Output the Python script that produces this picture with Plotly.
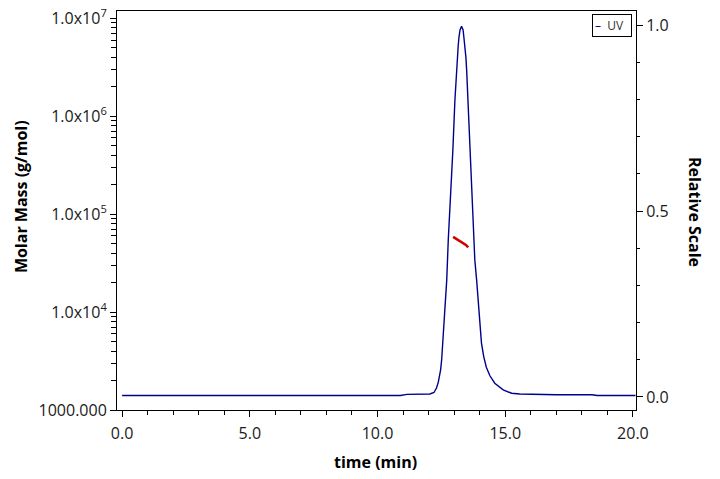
import plotly.graph_objects as go

# UV trace (relative scale)
uv_time = [0.0, 0.5, 1.2, 1.4, 1.7, 1.9, 5.0, 8.0, 10.9, 11.15, 11.8, 12.05, 12.21, 12.31, 12.38, 12.47,
           12.51, 12.62, 12.71, 12.77, 12.82, 12.86, 12.95, 13.03, 13.09, 13.12, 13.16, 13.19,
           13.23, 13.29, 13.35, 13.38, 13.42, 13.46, 13.49, 13.54, 13.62, 13.71, 13.76, 13.81,
           13.88, 13.99, 14.07, 14.16, 14.26, 14.40, 14.59, 14.92, 15.25, 15.57, 16.0, 16.35, 17.0,
           18.4, 18.6, 20.1]
uv_value = [0.004, 0.004, 0.004, 0.006, 0.006, 0.004, 0.004, 0.004, 0.004, 0.007, 0.008, 0.008, 0.012,
            0.024, 0.040, 0.073, 0.099, 0.207, 0.315, 0.422, 0.489, 0.530, 0.664, 0.798, 0.879,
            0.917, 0.946, 0.968, 0.987, 0.997, 0.987, 0.968, 0.946, 0.914, 0.879, 0.798, 0.664,
            0.530, 0.449, 0.368, 0.315, 0.207, 0.145, 0.108, 0.080, 0.057, 0.037, 0.019, 0.010, 0.008,
            0.007, 0.006, 0.006, 0.006, 0.004, 0.004]

# Molar mass trace (g/mol)
mm_time = [12.96, 13.10, 13.23, 13.35, 13.46, 13.55]
mm_value = [58600, 55500, 53000, 50800, 48500, 45900]

# Axis labels
x_ticks = [0, 5, 10, 15, 20]
x_ticktext = ["0.0", "5.0", "10.0", "15.0", "20.0"]
y_ticks = [1e3, 1e4, 1e5, 1e6, 1e7]
y_ticktext = ["1000.000", "1.0x10<sup>4</sup>", "1.0x10<sup>5</sup>", "1.0x10<sup>6</sup>", "1.0x10<sup>7</sup>"]
y_minor = [m * 10 ** e for e in range(3, 7) for m in range(2, 10)]
y2_ticks = [0.0, 0.5, 1.0]
y2_ticktext = ["0.0", "0.5", "1.0"]

TICKFONT = dict(family="Open Sans", size=16, color="#1a1a1a")
TITLEFONT = dict(family="Open Sans", size=16, color="#000000")

fig = go.Figure()
fig.add_trace(go.Scatter(x=uv_time, y=uv_value, mode="lines", name="UV", yaxis="y2",
                         line=dict(color="#00008C", width=1.4), showlegend=False))
fig.add_trace(go.Scatter(x=mm_time, y=mm_value, mode="lines", name="Molar Mass", yaxis="y",
                         line=dict(color="#D40000", width=2.6), showlegend=False))

fig.update_layout(
    width=720, height=479,
    margin=dict(l=117, r=84, t=11, b=69, autoexpand=False),
    paper_bgcolor="white", plot_bgcolor="white",
    xaxis=dict(range=[-0.2, 20.12], tickvals=x_ticks, ticktext=x_ticktext, showgrid=False,
               zeroline=False, showline=True, linecolor="black", linewidth=1, mirror=True,
               ticks="outside", ticklen=6, tickcolor="black", tickfont=TICKFONT, automargin=False,
               ticklabelstandoff=3,
               minor=dict(dtick=1, tick0=0, ticks="outside", ticklen=4, tickcolor="black", showgrid=False)),
    yaxis=dict(type="log", range=[3, 7.075], tickvals=y_ticks, ticktext=y_ticktext, showgrid=False,
               zeroline=False, showline=True, linecolor="black", linewidth=1, automargin=False,
               ticks="outside", ticklen=6, tickcolor="black", tickfont=TICKFONT,
               minor=dict(tickmode="array", tickvals=y_minor, ticks="outside", ticklen=5,
                          tickcolor="black", showgrid=False)),
    yaxis2=dict(overlaying="y", side="right", range=[-0.035, 1.038], tickvals=y2_ticks,
                ticktext=y2_ticktext, showgrid=False, zeroline=False, showline=True, automargin=False,
                linecolor="black", linewidth=1, ticks="outside", ticklen=6, tickcolor="black",
                tickfont=TICKFONT,
                minor=dict(dtick=0.1, tick0=0, ticks="outside", ticklen=3, tickcolor="black", showgrid=False)),
    annotations=[
        dict(text="<b>Molar Mass (g/mol)</b>", xref="paper", yref="paper", x=-0.185, y=0.536,
             textangle=-90, showarrow=False, font=TITLEFONT, xanchor="center", yanchor="middle"),
        dict(text="<b>Relative Scale</b>", xref="paper", yref="paper", x=1.114, y=0.496,
             textangle=90, showarrow=False, font=TITLEFONT, xanchor="center", yanchor="middle"),
        dict(text="<b>time (min)</b>", xref="paper", yref="paper", x=0.499, y=-0.130,
             showarrow=False, font=TITLEFONT, xanchor="center", yanchor="middle"),
        dict(text="<span style='color:#00008C'>–</span>  UV  ", xref="paper", yref="paper",
             x=0.992, y=0.9925, xanchor="right", yanchor="top", showarrow=False,
             font=dict(family="Open Sans", size=12, color="#333333"),
             bordercolor="black", borderwidth=1, borderpad=2, bgcolor="white"),
    ],
)

fig.write_html("out.html")
